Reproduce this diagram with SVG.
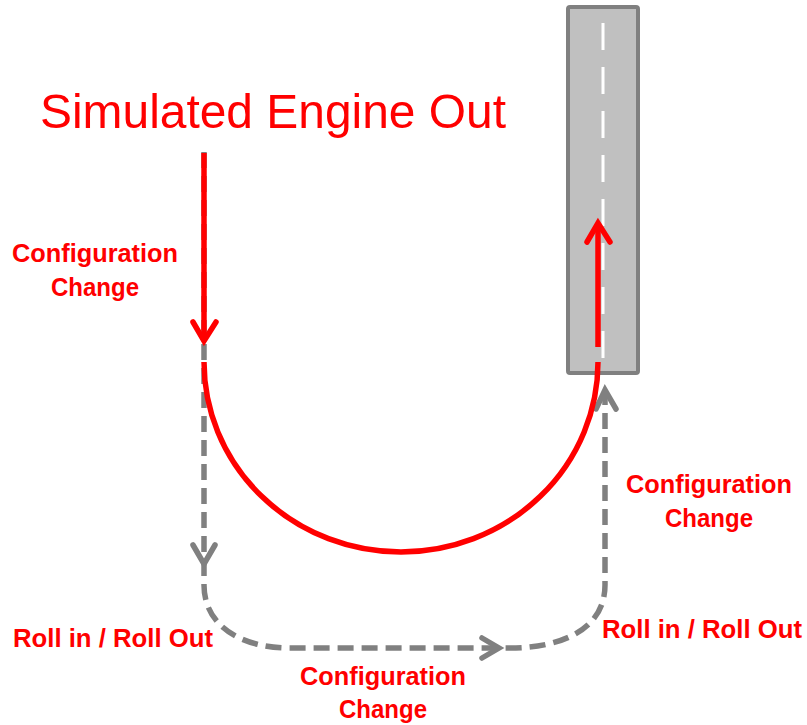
<svg xmlns="http://www.w3.org/2000/svg" width="807" height="725" viewBox="0 0 807 725">
<style>
.red{fill:none;stroke:#ff0000;stroke-width:5.5;}
.redhead{fill:none;stroke:#ff0000;stroke-width:5.5;stroke-linecap:round;stroke-linejoin:miter;}
.gray{fill:none;stroke:#808080;stroke-width:5.5;stroke-dasharray:16 8;}
.grayhead{fill:none;stroke:#808080;stroke-width:5.5;stroke-linecap:round;}
.lbl{font-family:"Liberation Sans",Arial,sans-serif;font-weight:bold;font-size:26px;fill:#ff0000;text-anchor:middle;}
.title{font-family:"Liberation Sans",Arial,sans-serif;font-size:49px;fill:#ff0000;}
</style>
<rect width="807" height="725" fill="#ffffff"/>
<g id="runway">
<rect x="568" y="7" width="70" height="366" rx="2" fill="#c0c0c0" stroke="#808080" stroke-width="4"/>
<line x1="603" y1="23" x2="603" y2="360" stroke="#ffffff" stroke-width="3" stroke-dasharray="27 17"/>
</g>
<g id="connectors">
<path class="gray" d="M204,152 V585 C204,625 240,648 290,648 H510 C560,648 605,630 605,585 V395"/>
<polyline class="grayhead" points="193,545 204,564 215,545"/>
<polyline class="grayhead" points="482,638 499,648 482,658"/>
<polyline class="grayhead" points="596,409 605,390 616,409"/>
<line class="red" x1="204" y1="153" x2="204" y2="338"/>
<polyline class="redhead" points="193,322 204,341 216,322"/>
<path class="red" d="M204,362 A197,190 0 0 0 598,362"/>
<line class="red" x1="598" y1="347" x2="598" y2="225"/>
<polyline class="redhead" points="587,242 598,223 610,242"/>
</g>
<g id="title">
<text class="title" x="40" y="128" textLength="466" lengthAdjust="spacingAndGlyphs">Simulated Engine Out</text>
</g>
<g id="label-left">
<text class="lbl" x="95" y="262" textLength="166" lengthAdjust="spacingAndGlyphs">Configuration</text>
<text class="lbl" x="95" y="296" textLength="88" lengthAdjust="spacingAndGlyphs">Change</text>
</g>
<g id="label-right">
<text class="lbl" x="709" y="493" textLength="166" lengthAdjust="spacingAndGlyphs">Configuration</text>
<text class="lbl" x="709" y="527" textLength="88" lengthAdjust="spacingAndGlyphs">Change</text>
</g>
<g id="label-bottom">
<text class="lbl" x="383" y="685" textLength="166" lengthAdjust="spacingAndGlyphs">Configuration</text>
<text class="lbl" x="383" y="718" textLength="88" lengthAdjust="spacingAndGlyphs">Change</text>
</g>
<g id="roll-left">
<text class="lbl" x="113" y="647" textLength="200" lengthAdjust="spacingAndGlyphs">Roll in / Roll Out</text>
</g>
<g id="roll-right">
<text class="lbl" x="702" y="638" textLength="200" lengthAdjust="spacingAndGlyphs">Roll in / Roll Out</text>
</g>
</svg>
